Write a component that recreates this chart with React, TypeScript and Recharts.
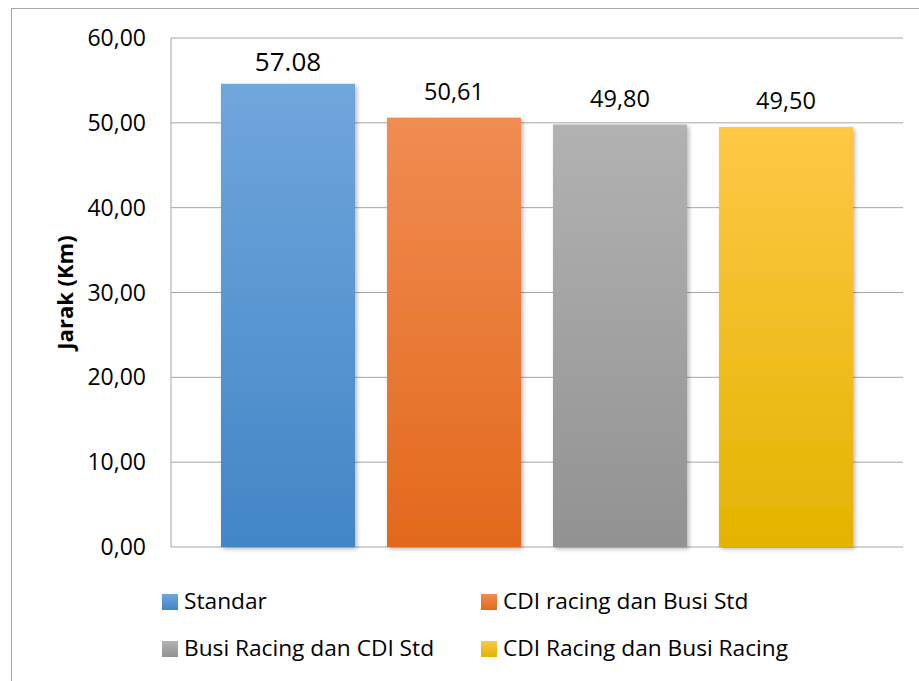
import React from 'react';
import { BarChart, Bar, XAxis, YAxis, CartesianGrid, Legend, Label } from 'recharts';

const categories = ['Jarak'];
const seriesNames = ['Standar', 'CDI racing dan Busi Std', 'Busi Racing dan CDI Std', 'CDI Racing dan Busi Racing'];
const seriesValues = [54.6, 50.61, 49.8, 49.5];
const valueLabels = ['57.08', '50,61', '49,80', '49,50'];
const yTicks = [0, 10, 20, 30, 40, 50, 60];
const yAxisTitle = 'Jarak (Km)';

const gradTop = ['#70a6dc', '#f18c52', '#b2b2b2', '#ffc846'];
const gradBottom = ['#4286c6', '#e2691c', '#929292', '#e3b400'];
const labelFontSizes = [26, 23.5, 23.5, 23.5];
const labelOffsets = [13, 18, 18, 18];

const FONT = '"Open Sans", sans-serif';

const data = categories.map((c) => {
  const row: Record<string, any> = { category: c };
  seriesNames.forEach((_, i) => {
    row['s' + i] = seriesValues[i];
  });
  return row;
});

const fmt = (v: number) => v.toFixed(2).replace('.', ',');

const LegendGrid = () => (
  <div
    style={{
      display: 'grid',
      gridTemplateColumns: '319px 319px',
      gridAutoRows: '47px',
      fontFamily: FONT,
      fontSize: 22.7,
      color: '#000',
    }}
  >
    {seriesNames.map((n, i) => (
      <div key={n} style={{ display: 'flex', alignItems: 'center', whiteSpace: 'nowrap' }}>
        <span
          style={{
            display: 'inline-block',
            width: 16,
            height: 16,
            marginRight: 6,
            background: `linear-gradient(${gradTop[i]}, ${gradBottom[i]})`,
          }}
        />
        <span style={{ lineHeight: 1 }}>{n}</span>
      </div>
    ))}
  </div>
);

const BarShape = (props: any) => {
  const { x, y, width, height, fill } = props;
  if (!height || height <= 0) return null;
  return <rect x={x} y={y} width={width} height={height} fill={fill} filter="url(#barShadow)" />;
};

export default function App() {
  return (
    <div
      style={{
        position: 'absolute',
        left: 0,
        top: 0,
        width: 919,
        height: 681,
        overflow: 'hidden',
        background: '#fff',
        fontFamily: FONT,
      }}
    >
      <div
        style={{
          position: 'absolute',
          left: 11,
          top: 8,
          width: 1000,
          height: 1000,
          borderLeft: '1px solid #a6a6a6',
          borderTop: '1px solid #a6a6a6',
        }}
      />
      <BarChart
        width={919}
        height={681}
        data={data}
        margin={{ top: 38, right: 16, left: 0, bottom: 134 }}
        barGap={32}
        barCategoryGap={0}
        style={{ position: 'absolute', left: 0, top: 0 }}
      >
        <defs>
          {seriesNames.map((_, i) => (
            <linearGradient key={i} id={'g' + i} x1="0" y1="0" x2="0" y2="1">
              <stop offset="0%" stopColor={gradTop[i]} />
              <stop offset="100%" stopColor={gradBottom[i]} />
            </linearGradient>
          ))}
          <filter id="barShadow" x="-10%" y="-10%" width="125%" height="125%">
            <feDropShadow dx="2" dy="2" stdDeviation="2" floodColor="#000" floodOpacity="0.28" />
          </filter>
        </defs>
        <CartesianGrid vertical={false} stroke="#a6a6a6" strokeWidth={1} />
        <XAxis dataKey="category" hide />
        <YAxis
          width={171}
          domain={[0, 60]}
          ticks={yTicks}
          interval={0}
          tickFormatter={fmt}
          tickLine={false}
          tickSize={0}
          tickMargin={25}
          axisLine={{ stroke: '#a6a6a6' }}
          tick={{ fontSize: 23, fill: '#000', fontFamily: FONT }}
        >
          <Label
            content={(props: any) => {
              const vb = props.viewBox || { x: 0, y: 0, width: 171, height: 509 };
              const cx = vb.x + 64;
              const cy = vb.y + vb.height / 2;
              return (
                <text
                  x={cx}
                  y={cy}
                  transform={`rotate(-90 ${cx} ${cy})`}
                  textAnchor="middle"
                  dominantBaseline="central"
                  fontWeight="bold"
                  fontSize={22}
                  fontFamily={FONT}
                  fill="#000"
                >
                  {yAxisTitle}
                </text>
              );
            }}
          />
        </YAxis>
        {seriesNames.map((n, i) => (
          <Bar
            key={n}
            dataKey={'s' + i}
            name={n}
            fill={`url(#g${i})`}
            barSize={134}
            isAnimationActive={false}
            shape={BarShape}
            label={{
              position: 'top',
              offset: labelOffsets[i],
              fontSize: labelFontSizes[i],
              fill: '#000',
              fontFamily: FONT,
              formatter: () => valueLabels[i],
            }}
          />
        ))}
        <Legend
          layout="horizontal"
          verticalAlign="middle"
          align="center"
          wrapperStyle={{ left: 162, top: 578, width: 700, height: 94 }}
          content={() => <LegendGrid />}
        />
      </BarChart>
    </div>
  );
}
